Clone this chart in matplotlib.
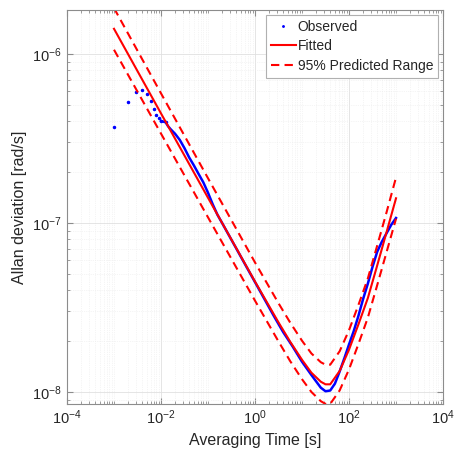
import numpy as np
import matplotlib
matplotlib.use("Agg")
import matplotlib.pyplot as plt
from matplotlib.ticker import LogLocator, NullFormatter

plt.rcParams['font.family'] = ['Liberation Sans', 'DejaVu Sans']
plt.rcParams['mathtext.fontset'] = 'custom'
plt.rcParams['mathtext.rm'] = 'Liberation Sans'

# observed Allan deviation (first points at integer multiples of the 1 ms sample time)
obs_tau = [0.001, 0.002, 0.003, 0.004, 0.005, 0.006, 0.007, 0.008, 0.009, 0.010,
           10**-1.9, 10**-1.85, 10**-1.8, 10**-1.7, 10**-1.6, 10**-1.5, 10**-1.4,
           10**-1.3, 10**-1.2, 10**-1.1, 0.1, 10**-0.9, 10**-0.8, 10**-0.7,
           10**-0.6, 10**-0.5, 10**-0.4, 10**-0.2, 1.0, 10**0.2, 10**0.4,
           10**0.6, 10**0.8, 10.0, 10**1.2, 10**1.4, 10**1.5, 10**1.6, 10**1.7,
           10**1.8, 10**1.9, 100.0, 10**2.1, 10**2.2, 10**2.3, 10**2.4, 10**2.5,
           10**2.6, 10**2.7, 10**2.8, 10**2.9, 1000.0]
obs_adev = [3.70e-7, 5.18e-7, 5.96e-7, 6.12e-7, 5.80e-7, 5.25e-7, 4.71e-7, 4.35e-7,
            4.17e-7, 4.02e-7, 3.94e-7, 3.74e-7, 3.60e-7, 3.37e-7, 3.10e-7, 2.77e-7,
            2.44e-7, 2.19e-7, 1.95e-7, 1.74e-7, 1.51e-7, 1.29e-7, 1.12e-7, 1.00e-7,
            8.91e-8, 7.94e-8, 7.08e-8, 5.62e-8, 4.47e-8, 3.55e-8, 2.82e-8,
            2.26e-8, 1.86e-8, 1.51e-8, 1.26e-8, 1.06e-8, 1.01e-8, 1.02e-8, 1.12e-8,
            1.32e-8, 1.58e-8, 1.91e-8, 2.29e-8, 2.82e-8, 3.55e-8, 4.37e-8, 5.50e-8,
            6.76e-8, 7.76e-8, 8.71e-8, 9.77e-8, 1.07e-7]

# fitted model and 95% prediction band
fit_tau = [0.001, 0.01, 0.1, 1.0, 10**0.5, 10**0.75, 10.0, 10**1.2, 10**1.4,
           10**1.5, 10**1.6, 10**1.8, 100.0, 10**2.2, 10**2.4, 10**2.6, 10**2.8, 1000.0]
fit_adev = [1.41e-6, 4.45e-7, 1.41e-7, 4.50e-8, 2.58e-8, 1.98e-8, 1.55e-8, 1.30e-8,
            1.15e-8, 1.11e-8, 1.11e-8, 1.33e-8, 1.78e-8, 2.51e-8, 3.59e-8, 5.61e-8,
            8.85e-8, 1.40e-7]
upper_adev = [1.87e-6, 5.85e-7, 1.84e-7, 5.84e-8, 3.35e-8, 2.57e-8, 2.01e-8, 1.69e-8,
              1.50e-8, 1.45e-8, 1.45e-8, 1.74e-8, 2.32e-8, 3.27e-8, 4.69e-8, 7.35e-8,
              1.16e-7, 1.86e-7]
lower_adev = [1.06e-6, 3.38e-7, 1.08e-7, 3.47e-8, 1.99e-8, 1.52e-8, 1.19e-8, 1.00e-8,
              8.82e-9, 8.50e-9, 8.50e-9, 1.02e-8, 1.36e-8, 1.92e-8, 2.75e-8, 4.29e-8,
              6.74e-8, 1.06e-7]

fig = plt.figure(figsize=(4.57, 4.57), dpi=100)
ax = fig.add_axes([0.1466, 0.116, 0.8228, 0.862])

# sparse dots at short tau, dense dots merge into a line afterwards
ax.loglog(obs_tau[:11], obs_adev[:11], '.', color='b', ms=3, label='Observed')
ax.loglog(obs_tau[9:], obs_adev[9:], '-', color='b', lw=1.8)
ax.loglog(fit_tau, fit_adev, '-', color='r', lw=1.5, label='Fitted')
ax.loglog(fit_tau, upper_adev, '--', color='r', lw=1.5, dashes=(4, 2.5),
          label='95% Predicted Range')
ax.loglog(fit_tau, lower_adev, '--', color='r', lw=1.5, dashes=(4, 2.5))

ax.set_xlim(1e-4, 1e4)
ax.set_ylim(8.49e-9, 1.82e-6)
ax.set_xticks([1e-4, 1e-2, 1, 1e2, 1e4])
ax.xaxis.set_minor_locator(LogLocator(base=10, subs=np.arange(1, 10), numticks=20))
ax.xaxis.set_minor_formatter(NullFormatter())
ax.set_yticks([1e-8, 1e-7, 1e-6])
ax.yaxis.set_minor_locator(LogLocator(base=10, subs=np.arange(1, 10), numticks=20))
ax.yaxis.set_minor_formatter(NullFormatter())

ax.grid(True, which='major', color='#e0e0e0', lw=0.6)
ax.grid(True, which='minor', color='#ebebeb', lw=0.5, ls=':')
ax.set_axisbelow(True)

for s in ax.spines.values():
    s.set_color('#8c8c8c')
    s.set_linewidth(0.8)
ax.tick_params(which='both', direction='in', top=True, right=True, color='#8c8c8c',
               labelcolor='#262626', labelsize=10.5)
ax.tick_params(which='major', length=4)
ax.tick_params(which='minor', length=2)

ax.set_xlabel('Averaging Time [s]', fontsize=11.5, color='#262626')
ax.set_ylabel('Allan deviation [rad/s]', fontsize=11.5, color='#262626')

leg = ax.legend(loc='upper right', fontsize=10, handlelength=1.8, frameon=True,
                fancybox=False, framealpha=1, edgecolor='#b0b0b0',
                borderaxespad=0.35, labelspacing=0.4, handletextpad=0.15,
                borderpad=0.35, markerscale=0.7)
leg.get_frame().set_linewidth(0.8)
for t in leg.get_texts():
    t.set_color('#262626')

fig.savefig('out.png', dpi=100)
